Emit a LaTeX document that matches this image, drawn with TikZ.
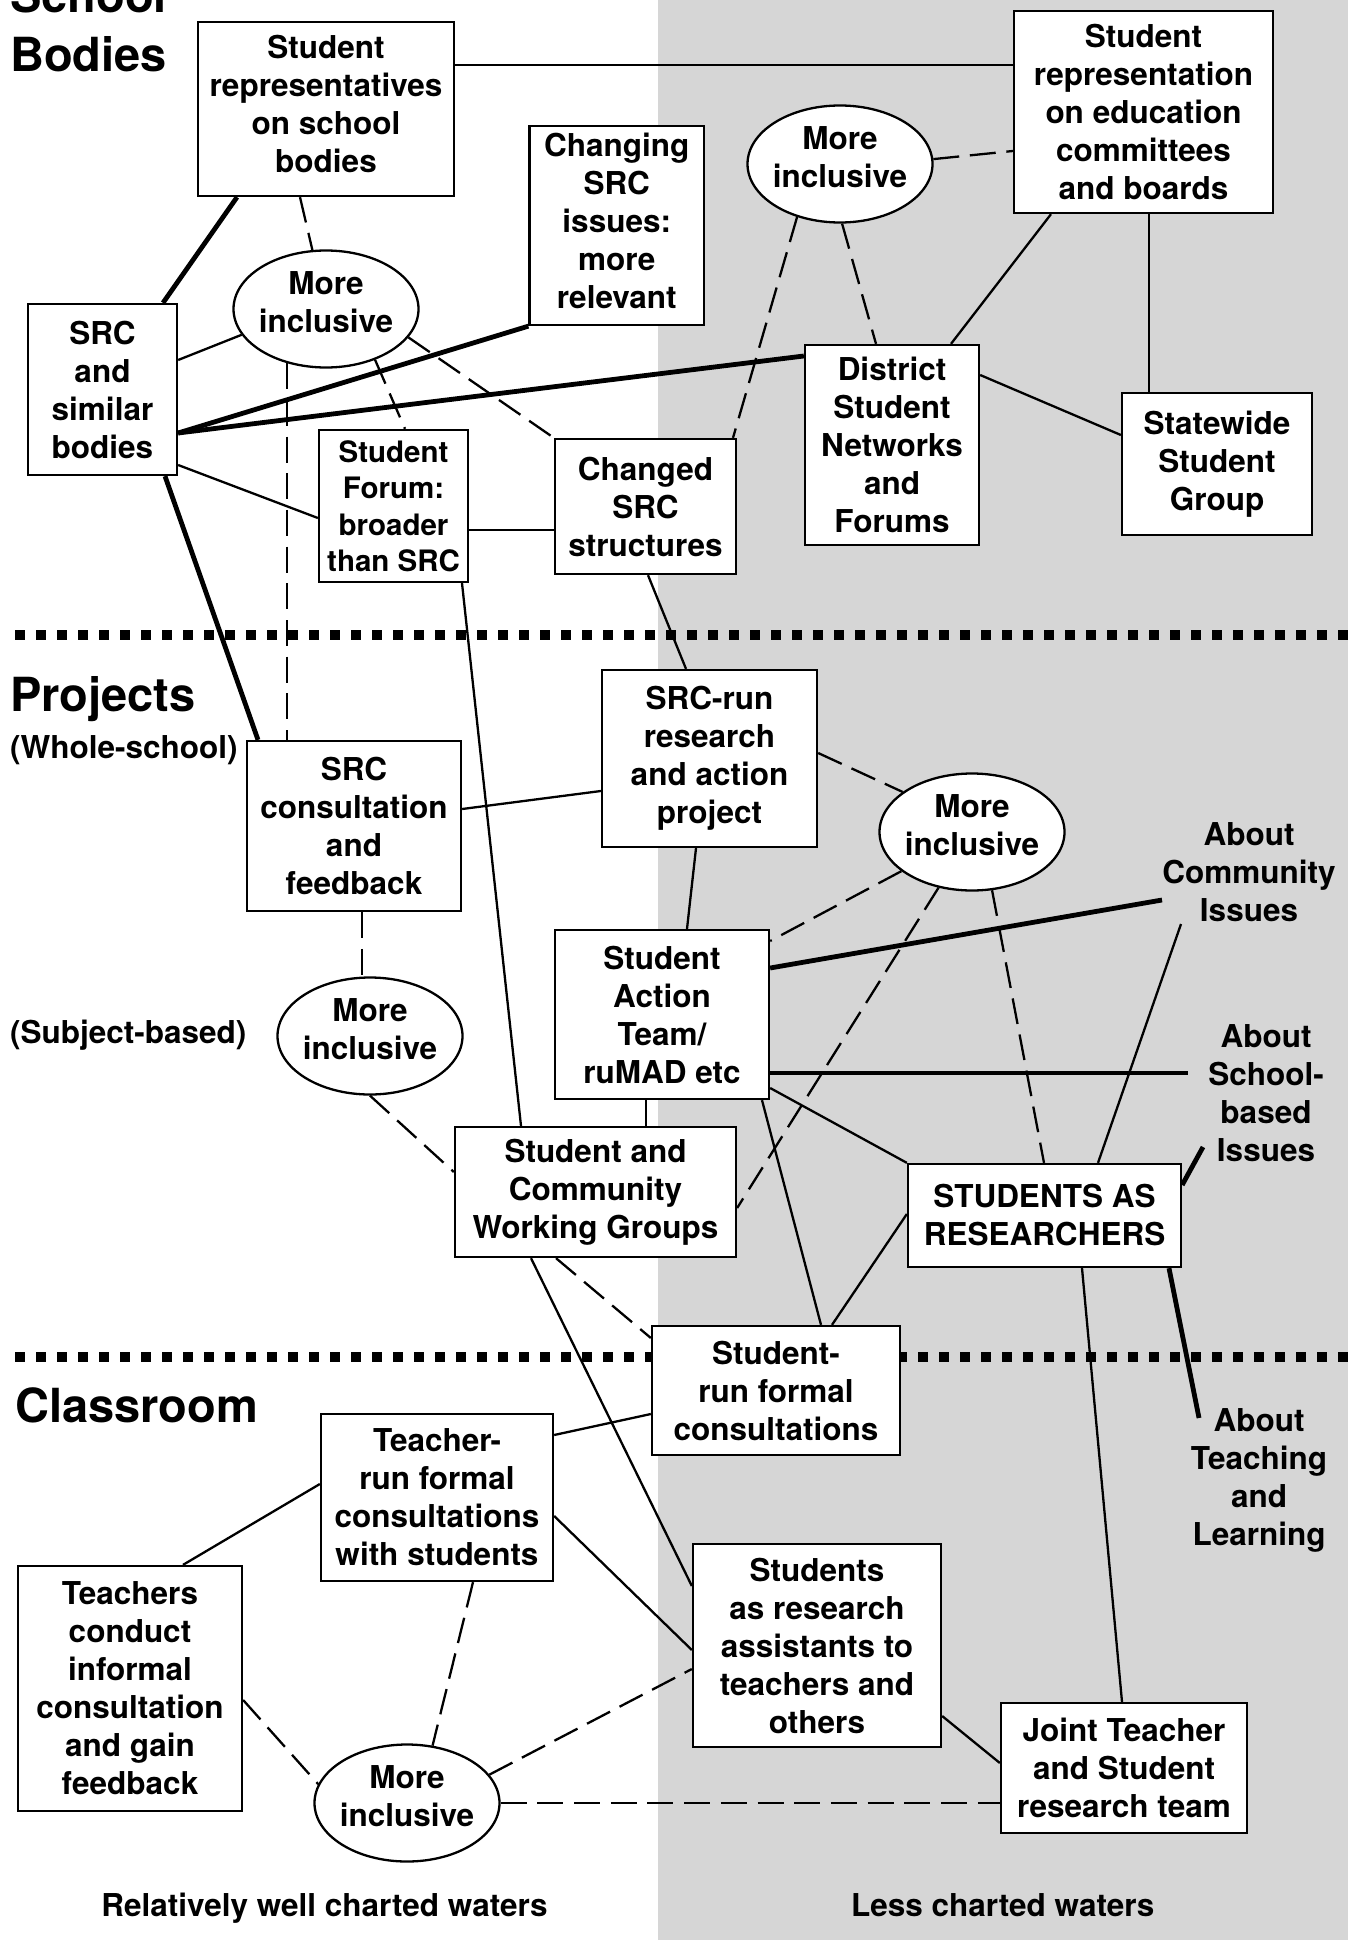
\documentclass[tikz,border=0pt]{standalone}
\usepackage{fontspec}
\setmainfont{TeX Gyre Heros}
\usetikzlibrary{shapes.geometric}
\pgfdeclarelayer{bg}
\pgfsetlayers{bg,main}
\definecolor{bggrey}{RGB}{214,214,214}
\newcommand\fbody{\fontsize{31.5}{38}\selectfont\bfseries}
\newcommand\fsmall{\fontsize{29.5}{36.5}\selectfont\bfseries}
\newcommand\ftitle{\fontsize{47}{58}\selectfont\bfseries}
\newcommand\dpx{\rule[-10pt]{0pt}{0pt}}
\tikzset{
 box/.style={draw, line width=2.3pt, fill=white, align=center, inner sep=0pt, font=\fbody},
 incl/.style={ellipse, draw, line width=2.3pt, fill=white, inner sep=0pt, minimum width=185pt, minimum height=117pt,
   label={[font=\fbody, align=center, inner sep=0pt, yshift=7pt]center:More\\inclusive}},
 thin/.style={line width=2.3pt},
 thick/.style={line width=4.8pt},
 dsh/.style={line width=2.3pt, dash pattern=on 26pt off 10.7pt},
 dots/.style={line width=10pt, dash pattern=on 10pt off 11pt},
 lbl/.style={font=\fbody, align=center, inner sep=0pt},
 ttl/.style={font=\ftitle, inner sep=0pt, anchor=base west},
}
\begin{document}
\begin{tikzpicture}[x=1pt,y=-1pt]
\useasboundingbox (0,0) rectangle (1348,1940);

% titles and labels
\node[ttl] (t1) at (10,13) {School};
\node[ttl] (t2) at (10,72) {Bodies};
\node[ttl] (t3) at (10,711) {Projects};
\node[ttl] (t4) at (15,1422) {Classroom};
\node[lbl, anchor=base west] (ws) at (10,758) {(Whole-school)};
\node[lbl, anchor=base west] (sb) at (10,1043) {(Subject-based)};
\node[lbl, anchor=base] (w1) at (324.5,1916) {Relatively well charted waters};
\node[lbl, anchor=base] (w2) at (1002.7,1916) {Less charted waters};
\node[lbl] (aboutC) at (1249,872.5) {About\\Community\\Issues};
\node[lbl] (aboutS) at (1266,1093.5) {About\\School-\\based\\Issues};
\node[lbl] (aboutT) at (1259,1480) {About\\Teaching\\and\\Learning};

% boxes
\node[box, minimum width=256pt, minimum height=174pt] (rep) at (326,109) {Student\\representatives\\on school\\bodies\dpx};
\node[box, minimum width=259pt, minimum height=202pt] (srep) at (1143.5,112) {Student\\representation\\on education\\committees\\and boards};
\node[box, minimum width=174.5pt, minimum height=199pt] (chg) at (616.75,225.5) {Changing\\SRC\\issues:\\more\\relevant\dpx};
\node[box, minimum width=149pt, minimum height=171pt] (src) at (102.5,389.5) {SRC\\and\\similar\\bodies};
\node[box, font=\fsmall, minimum width=149pt, minimum height=152pt] (sf) at (393.5,506) {Student\\Forum:\\broader\\than SRC};
\node[box, minimum width=181pt, minimum height=135pt] (cs) at (645.5,506.5) {Changed\\SRC\\structures};
\node[box, minimum width=174pt, minimum height=200pt] (dist) at (892,445) {District\\Student\\Networks\\and\\Forums};
\node[box, minimum width=190pt, minimum height=142pt] (state) at (1217,464) {Statewide\\Student\\Group};
\node[box, minimum width=214pt, minimum height=170pt] (scons) at (354,826) {SRC\\consultation\\and\\feedback};
\node[box, minimum width=215pt, minimum height=177pt] (srun) at (709.5,758.5) {SRC-run\\research\\and action\\project};
\node[box, minimum width=214pt, minimum height=169pt] (sat) at (662,1014.5) {Student\\Action\\Team/\\ruMAD etc};
\node[box, minimum width=281pt, minimum height=130pt] (wg) at (595.5,1192) {Student and\\Community\\Working Groups};
\node[box, minimum width=273pt, minimum height=103pt] (sar) at (1044.5,1215.5) {STUDENTS AS\\RESEARCHERS};
\node[box, minimum width=248pt, minimum height=129pt] (srf) at (776,1390.5) {Student-\\run formal\\consultations};
\node[box, minimum width=232pt, minimum height=167pt] (tr) at (437,1497.5) {Teacher-\\run formal\\consultations\\with students};
\node[box, minimum width=224pt, minimum height=245pt] (tc) at (130,1688.5) {Teachers\\conduct\\informal\\consultation\\and gain\\feedback};
\node[box, minimum width=248pt, minimum height=203pt] (sra) at (817,1645.5) {Students\\as research\\assistants to\\teachers and\\others};
\node[box, minimum width=246pt, minimum height=130pt] (jt) at (1124,1768) {Joint Teacher\\and Student\\research team};

% ellipses
\node[incl] (e1) at (326,309) {};
\node[incl] (e2) at (840,164) {};
\node[incl] (e3) at (972,832) {};
\node[incl] (e4) at (370,1036) {};
\node[incl] (e5) at (407,1803) {};

% free ends
\coordinate (aC) at (1162,900);
\coordinate (aCb) at (1181,924);
\coordinate (aS) at (1188,1073);
\coordinate (aS2) at (1203,1147);
\coordinate (aT) at (1199,1418);
\coordinate (d1a) at (15,635);
\coordinate (d1b) at (1348,635);
\coordinate (d2a) at (15,1357);
\coordinate (d2b) at (1348,1357);

\begin{pgfonlayer}{bg}
\fill[bggrey] (658,0) rectangle (1348,1940);
\draw[dots] (d1a) -- (d1b);
\draw[dots] (d2a) -- (d2b);

\draw[thin] (rep.east |- 0,65) -- (srep.west |- 0,65);
\draw[thick] (rep.south -| 237,0) -- (src.north -| 163,0);
\draw[dsh] (rep.south -| 300,0) -- (e1.103);
\draw[thin] (src.east |- 0,360) -- (e1.197);
\draw[dsh] (e1.234) -- (scons.north -| e1.234);
\draw[dsh] (e1.-46) -- (sf.north -| 405,0);
\draw[dsh] (e1.-19) -- (cs.north west);
\draw[thin] (src.east |- 0,465) -- (sf.west |- 0,518);
\draw[thick] (src.east |- 0,433) -- (chg.south west);
\draw[thick] (src.east |- 0,433) -- (dist.west |- 0,356);
\draw[thick] (src.south -| 165,0) -- (scons.north -| 258,0);
\draw[thin] (sf.east |- 0,530) -- (cs.west |- 0,530);
\draw[thin] (sf.south -| 462,0) -- (wg.north -| 521,0);
\draw[thin] (cs.south -| 648,0) -- (srun.north -| 686,0);
\draw[dsh] (e2.3) -- (srep.west |- 0,151);
\draw[dsh] (e2.231) -- (cs.north -| 733,0);
\draw[dsh] (e2.272) -- (dist.north -| 876,0);
\draw[thin] (srep.south -| 1051,0) -- (dist.north -| 951,0);
\draw[thin] (srep.south -| 1149,0) -- (state.north -| 1149,0);
\draw[thin] (dist.east |- 0,375) -- (state.west |- 0,435);
\draw[thin] (scons.east |- 0,809) -- (srun.west |- 0,791);
\draw[dsh] (scons.south -| 362,0) -- (e4.north -| 362,0);
\draw[dsh] (e4.south) -- (wg.west |- 0,1172);
\draw[thin] (srun.south -| 696,0) -- (sat.north -| 687,0);
\draw[dsh] (srun.east |- 0,753) -- (e3.150);
\draw[dsh] (e3.209) -- (sat.east |- 0,941);
\draw[dsh] (e3.239) -- (wg.east |- 0,1208);
\draw[dsh] (e3.-71) -- (sar.north -| 1044,0);
\draw[thick] (sat.east |- 0,968) -- (aC);
\draw[thick] (sat.east |- 0,1073) -- (aS);
\draw[thin] (sat.east |- 0,1088) -- (sar.north west);
\draw[thin] (sat.south -| 762,0) -- (srf.north -| 821,0);
\draw[thin] (sat.south -| 646,0) -- (wg.north -| 646,0);
\draw[thin] (sar.west |- 0,1214) -- (srf.north -| 832,0);
\draw[thin] (sar.north -| 1098,0) -- (aCb);
\draw[thick] (sar.east |- 0,1185) -- (aS2);
\draw[thin] (sar.south -| 1082,0) -- (jt.north -| 1122,0);
\draw[thick] (sar.south -| 1169,0) -- (aT);
\draw[thin] (wg.south -| 531,0) -- (sra.west |- 0,1586);
\draw[dsh] (wg.south -| 556,0) -- (srf.west |- 0,1338);
\draw[thin] (tr.east |- 0,1435) -- (srf.west |- 0,1414);
\draw[thin] (tr.west |- 0,1484) -- (tc.north -| 183,0);
\draw[thin] (tr.east |- 0,1516) -- (sra.west |- 0,1650);
\draw[dsh] (tr.south -| 473,0) -- (e5.66);
\draw[dsh] (tc.east |- 0,1700) -- (e5.168);
\draw[dsh] (e5.19) -- (sra.west |- 0,1669);
\draw[thin] (sra.east |- 0,1716) -- (jt.west |- 0,1763);
\draw[dsh] (e5.east) -- (jt.west |- e5.east);
\end{pgfonlayer}
\end{tikzpicture}
\end{document}
